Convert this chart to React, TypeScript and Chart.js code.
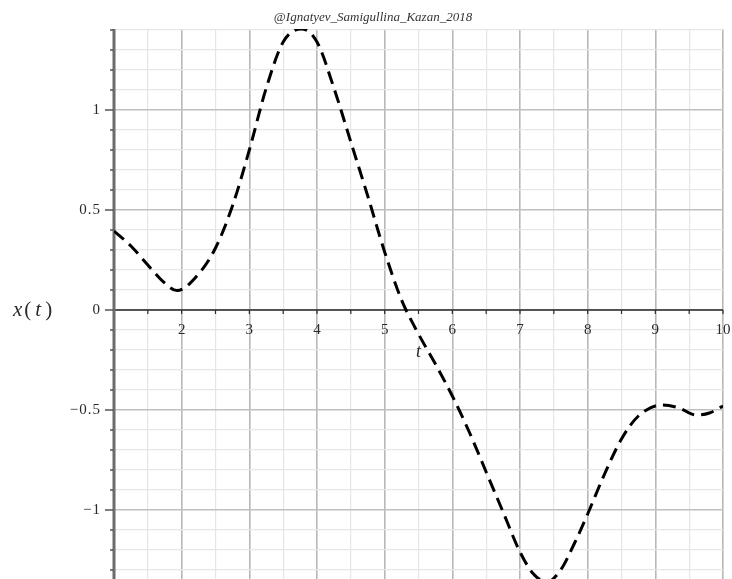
import { useEffect, useRef } from 'react';
import { Chart, registerables } from 'chart.js';

Chart.register(...registerables);

// Solution x(t) sampled along t (denser around the turning points)
const tValues = [
  1, 1.25, 1.5, 1.75, 1.93, 2.25, 2.5, 2.75, 3, 3.25, 3.5, 3.77, 4, 4.25, 4.5, 4.75,
  5, 5.25, 5.5, 5.75, 6, 6.25, 6.5, 6.75, 7, 7.2, 7.4, 7.6, 7.8, 8, 8.25, 8.5, 8.75,
  9.1, 9.35, 9.6, 9.8, 10,
];
const xValues = [
  0.395, 0.32, 0.225, 0.135, 0.097, 0.18, 0.31, 0.52, 0.8, 1.11, 1.34, 1.405, 1.34, 1.11, 0.84, 0.57,
  0.29, 0.05, -0.12, -0.27, -0.43, -0.61, -0.81, -1.01, -1.21, -1.32, -1.36, -1.3, -1.17, -1.02, -0.82, -0.645, -0.53,
  -0.475, -0.49, -0.525, -0.515, -0.48,
];

// Labelled ticks
const tTickLabels = [2, 3, 4, 5, 6, 7, 8, 9, 10];
const xTickLabels = [-1, -0.5, 0, 0.5, 1];

const T_MIN = 1;
const T_MAX = 10;
const X_MIN = -1.345;
const X_MAX = 1.405;

const TITLE = '@Ignatyev_Samigullina_Kazan_2018';
const SERIF = '"Liberation Serif", "DejaVu Serif", serif';

// grid positions: every 0.5 in t, every 0.1 in x
const tGrid: number[] = [];
for (let i = 2; i <= 20; i++) tGrid.push(i / 2);
const xGrid: number[] = [];
for (let i = -13; i <= 14; i++) xGrid.push(i / 10);

const isMult = (v: number, step: number) => Math.abs(v / step - Math.round(v / step)) < 1e-6;
const fmt = (v: number) => (v < 0 ? '\u2212' + String(Math.abs(v)) : String(v));

const axesPlugin = {
  id: 'crossedAxes',
  beforeDatasetsDraw(chart: any) {
    const { ctx, chartArea: a, scales } = chart;
    const xs = scales.x;
    const ys = scales.y;
    const y0 = ys.getPixelForValue(0);
    const x1 = xs.getPixelForValue(T_MIN);
    const seg = (ax: number, ay: number, bx: number, by: number) => {
      ctx.beginPath();
      ctx.moveTo(ax, ay);
      ctx.lineTo(bx, by);
      ctx.stroke();
    };
    ctx.save();
    // horizontal axis through x = 0
    ctx.strokeStyle = '#2b2b2b';
    ctx.lineWidth = 1.5;
    seg(a.left, y0, a.right, y0);
    ctx.lineWidth = 1.2;
    tGrid.forEach((v) => {
      if (v <= T_MIN) return;
      const px = xs.getPixelForValue(v);
      seg(px, y0, px, y0 + 4);
    });
    // vertical axis at t = 1
    ctx.strokeStyle = '#6c6c6c';
    ctx.lineWidth = 3;
    seg(x1, a.top, x1, a.bottom);
    ctx.strokeStyle = '#3a3a3a';
    ctx.lineWidth = 1.3;
    xGrid.forEach((v) => {
      const py = ys.getPixelForValue(v);
      const len = isMult(v, 0.5) ? 9 : 4;
      seg(x1 - len, py, x1 - 1, py);
    });
    ctx.restore();
  },
  afterDraw(chart: any) {
    const { ctx, scales } = chart;
    const xs = scales.x;
    const ys = scales.y;
    const y0 = ys.getPixelForValue(0);
    const x1 = xs.getPixelForValue(T_MIN);
    ctx.save();
    ctx.fillStyle = '#2a2a2a';
    ctx.font = `15px ${SERIF}`;
    ctx.textAlign = 'center';
    ctx.textBaseline = 'middle';
    tTickLabels.forEach((v) => {
      ctx.fillText(String(v), xs.getPixelForValue(v), y0 + 20);
    });
    ctx.textAlign = 'right';
    (ctx as any).letterSpacing = '1px';
    xTickLabels.forEach((v) => {
      ctx.fillText(fmt(v), x1 - 13, ys.getPixelForValue(v));
    });
    (ctx as any).letterSpacing = '0px';

    // axis names
    ctx.textAlign = 'center';
    ctx.font = `italic 18px ${SERIF}`;
    ctx.fillText('t', xs.getPixelForValue(5.5), y0 + 42);

    ctx.textAlign = 'left';
    let cx = 13;
    const part = (s: string, italic: boolean, gap: number) => {
      ctx.font = `${italic ? 'italic ' : ''}21px ${SERIF}`;
      ctx.fillText(s, cx, y0);
      cx += ctx.measureText(s).width + gap;
    };
    part('x', true, 2);
    part('(', false, 4);
    part('t', true, 4);
    part(')', false, 0);

    // caption
    ctx.textAlign = 'center';
    ctx.font = `italic 13px ${SERIF}`;
    ctx.fillStyle = '#333';
    ctx.fillText(TITLE, 373, 18);
    ctx.restore();
  },
};

export default function App() {
  const canvasRef = useRef<HTMLCanvasElement | null>(null);

  useEffect(() => {
    if (!canvasRef.current) return;
    const chart = new Chart(canvasRef.current, {
      type: 'scatter',
      data: {
        datasets: [
          {
            data: tValues.map((t, i) => ({ x: t, y: xValues[i] })),
            showLine: true,
            borderColor: '#000',
            borderWidth: 3,
            borderDash: [13, 7],
            cubicInterpolationMode: 'monotone',
            pointRadius: 0,
            fill: false,
          },
        ],
      },
      options: {
        animation: false,
        responsive: false,
        maintainAspectRatio: false,
        layout: { padding: { left: 114, right: 9, top: 29, bottom: 0 } },
        plugins: {
          legend: { display: false },
          tooltip: { enabled: false },
          title: { display: false },
        },
        scales: {
          x: {
            type: 'linear',
            min: T_MIN,
            max: T_MAX,
            ticks: { display: false },
            border: { display: false },
            afterBuildTicks: (s: any) => {
              s.ticks = tGrid.map((v) => ({ value: v }));
            },
            grid: {
              drawTicks: false,
              color: (c: any) => (isMult(c.tick.value, 1) ? '#b8b8b8' : '#e6e6e6'),
              lineWidth: (c: any) => (isMult(c.tick.value, 1) ? 1.6 : 1.2),
            },
          },
          y: {
            type: 'linear',
            min: X_MIN,
            max: X_MAX,
            ticks: { display: false },
            border: { display: false },
            afterBuildTicks: (s: any) => {
              s.ticks = xGrid.map((v) => ({ value: v }));
            },
            grid: {
              drawTicks: false,
              color: (c: any) => (isMult(c.tick.value, 0.5) ? '#c0c0c0' : '#e6e6e6'),
              lineWidth: (c: any) => (isMult(c.tick.value, 0.5) ? 1.6 : 1.2),
            },
          },
        },
      } as any,
      plugins: [axesPlugin],
    });
    return () => chart.destroy();
  }, []);

  return (
    <div style={{ position: 'fixed', left: 0, top: 0, width: 732, height: 579, background: '#fff' }}>
      <canvas ref={canvasRef} width={732} height={579} style={{ display: 'block' }} />
    </div>
  );
}
